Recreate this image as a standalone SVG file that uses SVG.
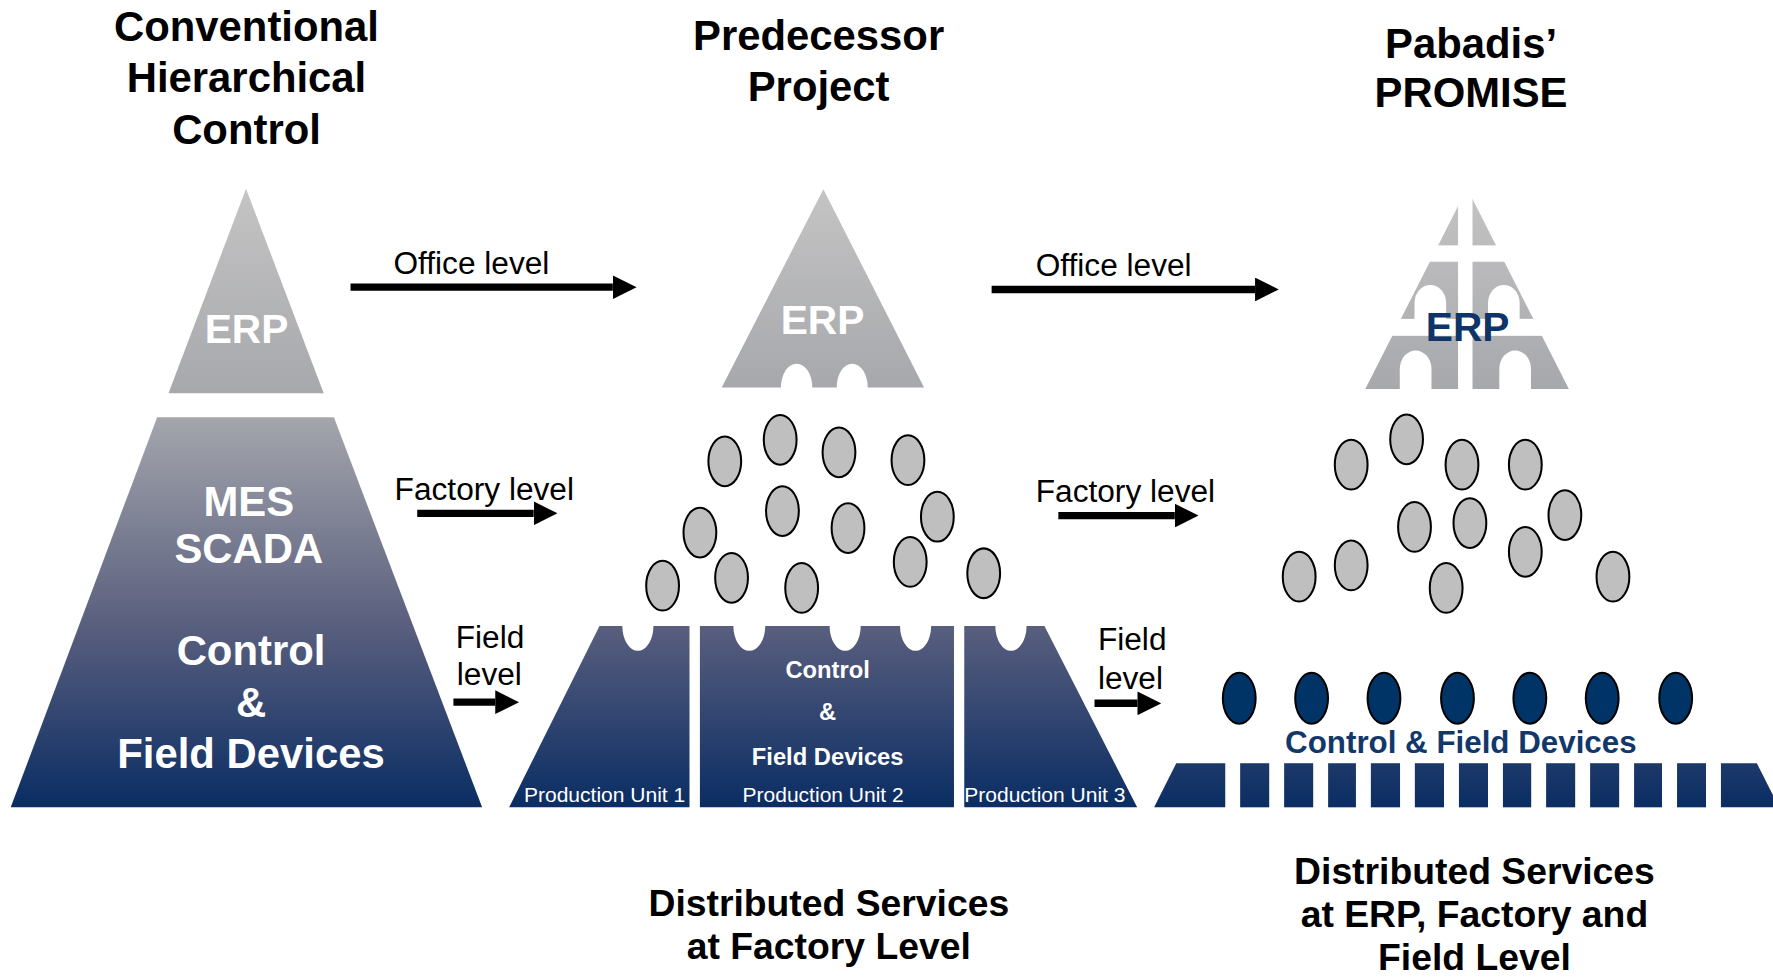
<svg xmlns="http://www.w3.org/2000/svg" width="1773" height="977" viewBox="0 0 1773 977">
<defs>
<style>
.t{font-family:"Liberation Sans",Arial,sans-serif;}
.title{font-family:"Liberation Sans",Arial,sans-serif;font-weight:bold;font-size:37px;fill:#000;text-anchor:middle;}
.bot{font-family:"Liberation Sans",Arial,sans-serif;font-weight:bold;font-size:33px;fill:#000;text-anchor:middle;}
.lvl{font-family:"Liberation Sans",Arial,sans-serif;font-size:28px;fill:#000;}
.wb{font-family:"Liberation Sans",Arial,sans-serif;font-weight:bold;fill:#fff;text-anchor:middle;}
.pu{font-family:"Liberation Sans",Arial,sans-serif;font-size:18.6px;fill:#fff;}
.g{fill:#bfbfbf;stroke:#000;stroke-width:1.8;}
.b{fill:#003366;stroke:#000;stroke-width:1.8;}
.shaft{stroke:#000;stroke-width:6.5;fill:none;}
</style>
<linearGradient id="gray" x1="0" y1="0" x2="0" y2="1">
<stop offset="0" stop-color="#c4c4c4"/>
<stop offset="1" stop-color="#a7a8ac"/>
</linearGradient>
<linearGradient id="navy" gradientUnits="userSpaceOnUse" x1="0" y1="369" x2="0" y2="714">
<stop offset="0" stop-color="#a4a6ac"/>
<stop offset="0.53" stop-color="#5a5f7e"/>
<stop offset="1" stop-color="#0a2d63"/>
</linearGradient>
<marker id="ah" markerUnits="userSpaceOnUse" markerWidth="21" markerHeight="21" refX="0" refY="10.5" orient="auto" viewBox="0 0 21 21">
<path d="M0,0 L21,10.5 L0,21 Z" fill="#000"/>
</marker>
<mask id="erpMask" maskUnits="userSpaceOnUse" x="1190" y="150" width="220" height="210">
<rect x="1190" y="150" width="220" height="210" fill="#fff"/>
<rect x="1289.5" y="150" width="12.8" height="210" fill="#000"/>
<rect x="1190" y="217" width="220" height="14.5" fill="#000"/>
<rect x="1190" y="282" width="220" height="15" fill="#000"/>
<path d="M1251,283 V268 A14 16 0 0 1 1279,268 V283 Z" fill="#000"/>
<path d="M1316,283 V268 A14 16 0 0 1 1344,268 V283 Z" fill="#000"/>
<path d="M1238,345 V326 A14 16 0 0 1 1266,326 V345 Z" fill="#000"/>
<path d="M1326,345 V326 A14 16 0 0 1 1354,326 V345 Z" fill="#000"/>
</mask>
</defs>
<rect width="1773" height="977" fill="#fff"/>
<g transform="scale(1.1307)">

<g id="titles">
<text class="title" x="218" y="36">Conventional</text>
<text class="title" x="218" y="81.5">Hierarchical</text>
<text class="title" x="218" y="127">Control</text>
<text class="title" x="724" y="44">Predecessor</text>
<text class="title" x="724" y="89">Project</text>
<text class="title" x="1301" y="51">Pabadis’</text>
<text class="title" x="1301" y="95">PROMISE</text>
</g>

<g id="conventional-erp">
<polygon points="217.6,167 149,347.8 286.3,347.8" fill="url(#gray)"/>
<text class="wb" x="218" y="303.5" font-size="36">ERP</text>
</g>

<g id="conventional-mes">
<polygon points="139,369 295.3,369 426.4,714 9.5,714" fill="url(#navy)"/>
<text class="wb" x="220" y="456" font-size="37">MES</text>
<text class="wb" x="220" y="498" font-size="37">SCADA</text>
<text class="wb" x="222" y="588" font-size="37">Control</text>
<text class="wb" x="222" y="634" font-size="37">&amp;</text>
<text class="wb" x="222" y="679" font-size="37">Field Devices</text>
</g>

<g id="predecessor-erp">
<path d="M638.3,342.6 L728.2,167.4 L817.2,342.6 L767.4,342.6 A13.7 21 0 0 0 740,342.6 L718.4,342.6 A13.85 21 0 0 0 690.7,342.6 Z" fill="url(#gray)"/>
<text class="wb" x="727.5" y="295.5" font-size="36">ERP</text>
</g>

<g id="predecessor-services">
<ellipse class="g" cx="641" cy="408" rx="14.5" ry="22"/>
<ellipse class="g" cx="690" cy="389" rx="14.5" ry="22"/>
<ellipse class="g" cx="742" cy="400" rx="14.5" ry="22"/>
<ellipse class="g" cx="803" cy="407" rx="14.5" ry="22"/>
<ellipse class="g" cx="692" cy="452" rx="14.5" ry="22"/>
<ellipse class="g" cx="829" cy="457" rx="14.5" ry="22"/>
<ellipse class="g" cx="750" cy="467" rx="14.5" ry="22"/>
<ellipse class="g" cx="619" cy="471" rx="14.5" ry="22"/>
<ellipse class="g" cx="805" cy="497" rx="14.5" ry="22"/>
<ellipse class="g" cx="586" cy="518" rx="14.5" ry="22"/>
<ellipse class="g" cx="647" cy="511" rx="14.5" ry="22"/>
<ellipse class="g" cx="709" cy="520" rx="14.5" ry="22"/>
<ellipse class="g" cx="870" cy="507" rx="14.5" ry="22"/>
</g>

<g id="production-unit-1">
<path d="M450.3,714 L530.2,553.6 L550.4,553.6 A13.75 22 0 0 0 577.9,553.6 L609.8,553.6 L609.8,714 Z" fill="url(#navy)"/>
<text class="pu" x="463.4" y="709.6">Production Unit 1</text>
</g>
<g id="production-unit-2">
<path d="M619,553.6 L648.6,553.6 A14.1 22 0 0 0 676.8,553.6 L733.7,553.6 A13.75 22 0 0 0 761.2,553.6 L796,553.6 A13.75 22 0 0 0 823.5,553.6 L843.7,553.6 L843.7,714 L619,714 Z" fill="url(#navy)"/>
<text class="wb" x="732" y="600" font-size="21">Control</text>
<text class="wb" x="732" y="637" font-size="21">&amp;</text>
<text class="wb" x="732" y="676.6" font-size="21">Field Devices</text>
<text class="pu" x="728" y="709.6" text-anchor="middle">Production Unit 2</text>
</g>
<g id="production-unit-3">
<path d="M852.8,553.6 L880.3,553.6 A13.8 22 0 0 0 907.9,553.6 L923.7,553.6 L1005.7,714 L852.8,714 Z" fill="url(#navy)"/>
<text class="pu" x="852.8" y="709.6">Production Unit 3</text>
</g>

<g id="promise-erp">
<polygon points="1297.5,166.6 1387.5,344 1207.5,344" fill="url(#gray)" mask="url(#erpMask)"/>
<text class="t" x="1298" y="302" font-size="36" font-weight="bold" fill="#0f3568" text-anchor="middle">ERP</text>
</g>

<g id="promise-services">
<ellipse class="g" cx="1195" cy="411" rx="14.5" ry="22"/>
<ellipse class="g" cx="1244" cy="388.5" rx="14.5" ry="22"/>
<ellipse class="g" cx="1293" cy="411" rx="14.5" ry="22"/>
<ellipse class="g" cx="1349" cy="411" rx="14.5" ry="22"/>
<ellipse class="g" cx="1384" cy="455.5" rx="14.5" ry="22"/>
<ellipse class="g" cx="1251" cy="466" rx="14.5" ry="22"/>
<ellipse class="g" cx="1300" cy="462.6" rx="14.5" ry="22"/>
<ellipse class="g" cx="1349" cy="488" rx="14.5" ry="22"/>
<ellipse class="g" cx="1195" cy="500" rx="14.5" ry="22"/>
<ellipse class="g" cx="1149" cy="510" rx="14.5" ry="22"/>
<ellipse class="g" cx="1279" cy="520" rx="14.5" ry="22"/>
<ellipse class="g" cx="1426.5" cy="510" rx="14.5" ry="22"/>
</g>

<g id="promise-devices">
<ellipse class="b" cx="1096" cy="617.5" rx="14.5" ry="22.5"/>
<ellipse class="b" cx="1160" cy="617.5" rx="14.5" ry="22.5"/>
<ellipse class="b" cx="1224" cy="617.5" rx="14.5" ry="22.5"/>
<ellipse class="b" cx="1289" cy="617.5" rx="14.5" ry="22.5"/>
<ellipse class="b" cx="1353" cy="617.5" rx="14.5" ry="22.5"/>
<ellipse class="b" cx="1417" cy="617.5" rx="14.5" ry="22.5"/>
<ellipse class="b" cx="1482" cy="617.5" rx="14.5" ry="22.5"/>
<text class="t" x="1292" y="666" font-size="27.7" font-weight="bold" fill="#12386b" text-anchor="middle">Control &amp; Field Devices</text>
</g>

<g id="promise-field-bar" fill="url(#navy)">
<polygon points="1020.7,714 1040.3,675 1083.6,675 1083.6,714"/>
<rect x="1096.8" y="675" width="25.7" height="39"/>
<rect x="1135.7" y="675" width="25.7" height="39"/>
<rect x="1174.6" y="675" width="24.6" height="39"/>
<rect x="1212.4" y="675" width="25.8" height="39"/>
<rect x="1251.3" y="675" width="25.8" height="39"/>
<rect x="1290.3" y="675" width="25.7" height="39"/>
<rect x="1329.2" y="675" width="25" height="39"/>
<rect x="1367.4" y="675" width="25.7" height="39"/>
<rect x="1406.3" y="675" width="25.7" height="39"/>
<rect x="1445.2" y="675" width="24.7" height="39"/>
<rect x="1483.2" y="675" width="25.6" height="39"/>
<polygon points="1522,675 1553.8,675 1573.4,714 1522,714"/>
</g>

<g id="connectors">
<line class="shaft" x1="310" y1="254" x2="542" y2="254" marker-end="url(#ah)"/>
<line class="shaft" x1="369" y1="454" x2="472" y2="454" marker-end="url(#ah)"/>
<line class="shaft" x1="401" y1="621" x2="438" y2="621" marker-end="url(#ah)"/>
<line class="shaft" x1="877" y1="256" x2="1110" y2="256" marker-end="url(#ah)"/>
<line class="shaft" x1="936" y1="456" x2="1039" y2="456" marker-end="url(#ah)"/>
<line class="shaft" x1="968" y1="622" x2="1006" y2="622" marker-end="url(#ah)"/>
</g>

<g id="level-labels">
<text class="lvl" x="348" y="242">Office level</text>
<text class="lvl" x="349" y="442">Factory level</text>
<text class="lvl" x="403" y="573">Field</text>
<text class="lvl" x="404" y="606">level</text>
<text class="lvl" x="916" y="244">Office level</text>
<text class="lvl" x="916" y="444">Factory level</text>
<text class="lvl" x="971" y="575">Field</text>
<text class="lvl" x="971" y="609">level</text>
</g>

<g id="captions">
<text class="bot" x="733" y="810">Distributed Services</text>
<text class="bot" x="733" y="848">at Factory Level</text>
<text class="bot" x="1304" y="782">Distributed Services</text>
<text class="bot" x="1304" y="820">at ERP, Factory and</text>
<text class="bot" x="1304" y="857.5">Field Level</text>
</g>

</g>
</svg>
